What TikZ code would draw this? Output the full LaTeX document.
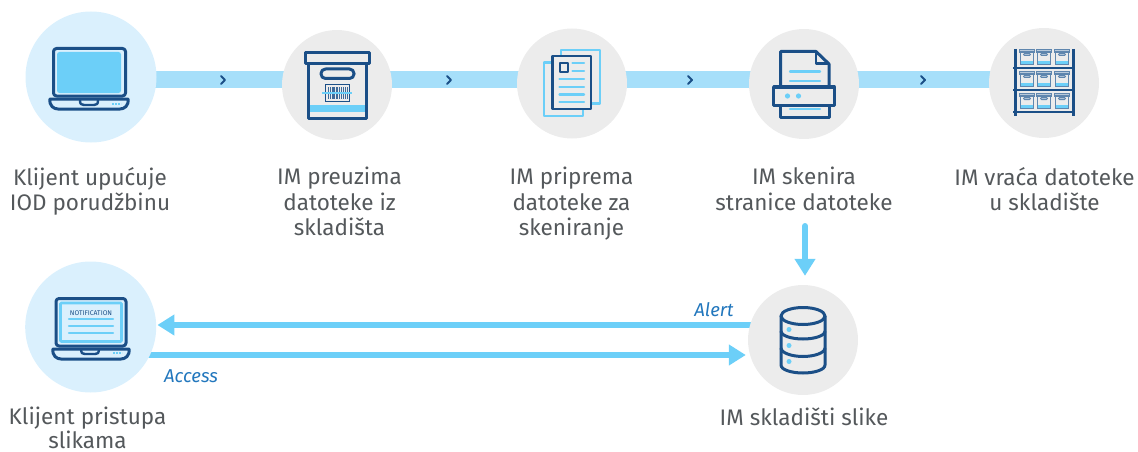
\documentclass[tikz,border=0pt]{standalone}
\usepackage{fontspec}
\setmainfont{Fira Sans}
\usetikzlibrary{arrows.meta}
\pgfdeclarelayer{bg}
\pgfsetlayers{bg,main}
\definecolor{navy}{HTML}{1B4F87}
\definecolor{sky}{HTML}{6CCFF8}
\definecolor{band}{HTML}{A6DFFA}
\definecolor{pale}{HTML}{DAF0FD}
\definecolor{greyc}{HTML}{ECECEC}
\definecolor{txt}{HTML}{54585B}
\definecolor{lab}{HTML}{2277BD}
\definecolor{boxl}{HTML}{5F86AE}
\tikzset{
  bigc/.style={circle,fill=pale,minimum size=131pt,inner sep=0pt},
  smallc/.style={circle,fill=greyc,minimum size=110pt,inner sep=0pt},
  captxt/.style={text=txt,align=center,font=\fontsize{22.5}{25.5}\selectfont,anchor=north,inner sep=0pt,execute at begin node=\strut},
  lbl/.style={text=lab,font=\fontsize{18.6}{20}\selectfont\itshape,inner sep=0pt},
  ic/.style={draw=navy,line width=3pt,line join=round},
  icl/.style={draw=sky,line width=2.4pt,line cap=round},
  flow/.style={draw=band,line width=17pt},
  arr/.style={draw=sky,line width=6pt,-{Triangle[length=17pt,width=20pt,fill=sky]}},
  chev/.style={draw=navy,line width=2.1pt,line cap=round,line join=round}
}
\newcommand{\chevron}[2]{\draw[chev] (#1-2,#2-4) -- (#1+2,#2) -- (#1-2,#2+4);}
\newcommand{\lapbase}[3]{% x0 x1 ytop
  \draw[ic,fill=none] (#1,#3) -- (#2,#3) .. controls (#2+1,#3+7) and (#2-4,#3+10) .. (#2-8,#3+10) -- (#1+8,#3+10) .. controls (#1+4,#3+10) and (#1-1,#3+7) .. (#1,#3) -- cycle;
}
\begin{document}
\begin{tikzpicture}[x=1pt,y=-1pt]
\useasboundingbox (0,0) rectangle (1138,452);
\node[bigc] (n1) at (91,77) {};
\node[smallc] (n2) at (337,85) {};
\node[smallc] (n3) at (572,83.5) {};
\node[smallc] (n4) at (804,84) {};
\node[smallc] (n5) at (1044,83) {};
\node[bigc] (n6) at (90.7,327) {};
\node[smallc] (n7) at (803,340) {};
\chevron{223}{80}\chevron{449}{80}\chevron{690}{80}\chevron{923}{80}
% laptop 1
\fill[sky,rounded corners=2.5pt] (57,52) rectangle (121,93);
\draw[ic,rounded corners=3pt] (53.5,96) -- (53.5,48.5) -- (125.5,48.5) -- (125.5,96) -- cycle;
\lapbase{50}{128}{99}
\draw[ic,line width=2.4pt] (80,100) .. controls (80,104) and (81,105) .. (84,105) -- (94,105) .. controls (97,105) and (98,104) .. (98,100);
\draw[sky,line width=1.4pt,dash pattern=on 2pt off 1pt] (112,104) -- (121,104);
% box
\draw[ic] (305,53) rectangle (369.5,64);
\fill[sky] (309,105) rectangle (365,112);
\draw[ic] (308,64.5) -- (308,118) -- (366,118) -- (366,64.5);
\draw[ic,rounded corners=4.5pt] (321,69) rectangle (354,78.5);
\draw[navy,line width=1pt] (325,85) rectangle (349,101);
\foreach \x/\w in {328/1.2,330/0.6,331.5/0.6,333/1.5,335.5/0.6,337/1,339/0.6,340.5/1.5,343/0.6,344.5/1,346.5/0.6}{\fill[navy!85] (\x,87) rectangle ++(\w,12);}
\draw[sky,line width=1.8pt] (322,93) -- (352,93);
% docs
\draw[sky,line width=2.2pt,line join=round] (561,55) -- (561,50) -- (600,50) -- (600,103.5) -- (592,103.5);
\draw[sky,line width=2.2pt,line join=round] (551,62.5) -- (544,62.5) -- (544,116) -- (583,116) -- (583,110);
\draw[ic,line width=2.6pt] (552.5,56) rectangle (591,109);
\draw[ic,line width=2pt] (559.5,63) rectangle (568,72);
\foreach \y in {63,71}{\draw[icl] (572.5,\y) -- (584,\y);}
\foreach \y in {79,87,94.5,102}{\draw[icl] (559.5,\y) -- (584,\y);}
% printer
\draw[ic] (780.5,87) -- (780.5,51.5) -- (816,51.5) -- (829,64) -- (829,87);
\draw[ic,line width=2.4pt] (816,51.5) -- (816,63.5) -- (829,63.5);
\draw[icl] (790,71.5) -- (820,71.5);
\draw[icl] (790,81) -- (820,81);
\draw[ic] (773.5,87) rectangle (834.5,105);
\draw[ic] (780.5,105) -- (780.5,117) -- (829,117) -- (829,105);
\draw[icl] (790,109) -- (820,109);
\fill[sky] (787.5,96) circle (2.6pt) (798.5,96) circle (2.6pt);
% shelves
\foreach \r in {0,22,44}{\foreach \cx in {1027,1044,1062}{
  \fill[sky] (\cx-6.5,\r+61) rectangle (\cx+6.5,\r+64);
  \draw[boxl,line width=1.2pt] (\cx-6.5,\r+52) -- (\cx-6.5,\r+64.3) -- (\cx+6.5,\r+64.3) -- (\cx+6.5,\r+52);
  \draw[boxl,line width=1.1pt,fill=boxl!45] (\cx-7.5,\r+49.8) rectangle (\cx+7.5,\r+52);
  \draw[boxl,line width=1pt,fill=boxl!45,rounded corners=1pt] (\cx-3.5,\r+53.5) rectangle (\cx+3.5,\r+55.5);
}}
\foreach \x in {1015,1073}{\draw[navy,line width=3pt] (\x,49) -- (\x,116);}
\foreach \y in {68,90,112}{\draw[navy,line width=2.4pt] (1013,\y) -- (1075,\y);}
% laptop 2
\draw[ic,rounded corners=3pt] (56,346) -- (56,298.5) -- (126,298.5) -- (126,346) -- cycle;
\draw[sky,line width=2.6pt,rounded corners=1pt] (60.5,303) rectangle (121.5,341.5);
\node[text=navy,font=\fontsize{6.8}{7}\selectfont,inner sep=0pt] (nt) at (91,313) {NOTIFICATION};
\foreach \y in {319,326,333}{\draw[icl] (69,\y) -- (113,\y);}
\lapbase{53}{129}{349}
\draw[ic,line width=2.4pt] (81,350) .. controls (81,353) and (82,354) .. (85,354) -- (95,354) .. controls (98,354) and (99,353) .. (99,350);
\draw[sky,line width=1.4pt,dash pattern=on 2pt off 1pt] (113,353) -- (122,353);
% database
\draw[ic] (803,316) ellipse (22pt and 8.5pt);
\draw[ic] (781,316) -- (781,365) .. controls (781,370) and (792,373) .. (803,373) .. controls (814,373) and (825,370) .. (825,365) -- (825,316);
\draw[ic] (781,331) .. controls (781,336) and (792,339) .. (803,339) .. controls (814,339) and (825,336) .. (825,331);
\draw[ic] (781,348) .. controls (781,353) and (792,356.5) .. (803,356.5) .. controls (814,356.5) and (825,353) .. (825,348);
\fill[sky] (789,329.5) circle (2.5pt) (789,345.5) circle (2.5pt) (789,361.5) circle (2.5pt);
% captions
\node[captxt] (t1) at (90,167) {Klijent upućuje\\IOD porudžbinu};
\node[captxt] (t2) at (339.5,167) {IM preuzima\\datoteke iz\\skladišta};
\node[captxt] (t3) at (571.5,167) {IM priprema\\datoteke za\\skeniranje};
\node[captxt] (t4) at (804,167) {IM skenira\\stranice datoteke};
\node[captxt] (t5) at (1044.5,167) {IM vraća datoteke\\u skladište};
\node[captxt] (t6) at (87.5,407) {Klijent pristupa\\[-2pt]slikama};
\node[captxt] (t7) at (804,407.6) {IM skladišti slike};
\node[lbl] (l1) at (714,310) {Alert};
\node[lbl] (l2) at (191,376) {Access};
% connectors
\begin{pgfonlayer}{bg}
\draw[flow] ([yshift=-2.5pt]n1.center) -- ([yshift=5.5pt]n2.center);
\draw[flow] ([yshift=5.5pt]n2.center) -- ([yshift=4pt]n3.center);
\draw[flow] ([yshift=4pt]n3.center) -- ([yshift=4.5pt]n4.center);
\draw[flow] ([yshift=4.5pt]n4.center) -- ([yshift=3.5pt]n5.center);
\draw[arr] ([yshift=15pt]n7.center) -- ([shift={(1pt,2pt)}]n6.east);
\draw[arr] ([yshift=-28pt]n6.center) -- ([shift={(-2pt,-15pt)}]n7.west);
\draw[arr,line cap=round] (805,226) -- ([shift={(2pt,9pt)}]n7.north);
\end{pgfonlayer}
\end{tikzpicture}
\end{document}
